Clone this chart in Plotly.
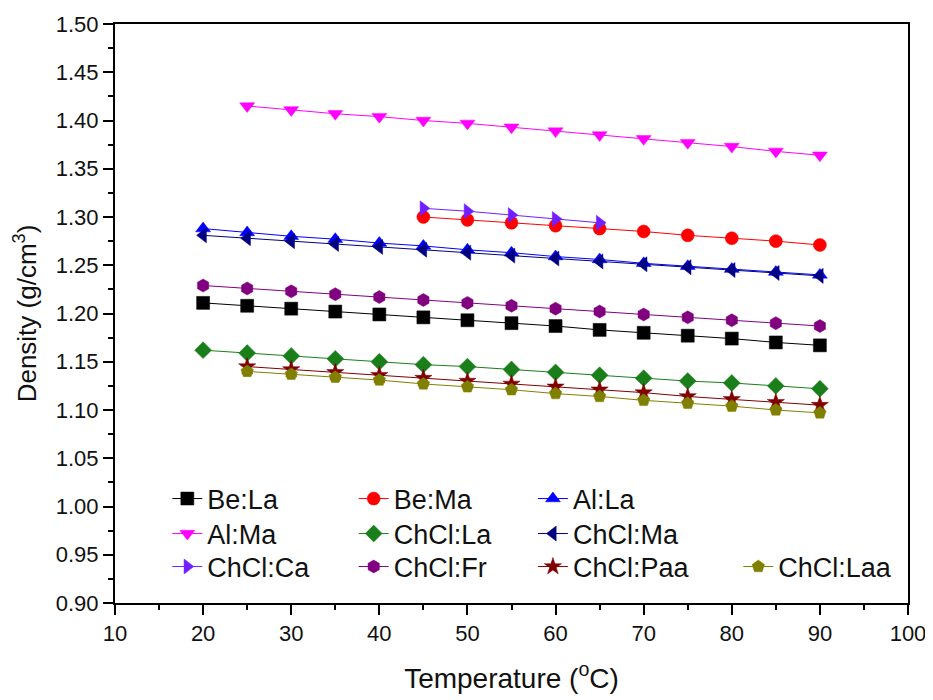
import plotly.graph_objects as go

# ---- data ----
t20 = [20, 25, 30, 35, 40, 45, 50, 55, 60, 65, 70, 75, 80, 85, 90]
t25 = [25, 30, 35, 40, 45, 50, 55, 60, 65, 70, 75, 80, 85, 90]
t45 = [45, 50, 55, 60, 65, 70, 75, 80, 85, 90]
t45_65 = [45, 50, 55, 60, 65]

be_la = [1.211, 1.208, 1.205, 1.202, 1.199, 1.196, 1.193, 1.190, 1.187, 1.183, 1.180, 1.177, 1.174, 1.170, 1.167]
be_ma = [1.300, 1.297, 1.294, 1.291, 1.288, 1.285, 1.281, 1.278, 1.275, 1.271]
al_la = [1.288, 1.284, 1.280, 1.277, 1.273, 1.270, 1.266, 1.263, 1.259, 1.256, 1.252, 1.249, 1.246, 1.243, 1.240]
al_ma = [1.415, 1.411, 1.407, 1.404, 1.400, 1.397, 1.393, 1.389, 1.385, 1.381, 1.377, 1.373, 1.368, 1.364]
chcl_la = [1.162, 1.159, 1.156, 1.153, 1.150, 1.147, 1.145, 1.142, 1.139, 1.136, 1.133, 1.130, 1.128, 1.125, 1.122]
chcl_ma = [1.281, 1.278, 1.275, 1.272, 1.269, 1.266, 1.263, 1.260, 1.257, 1.254, 1.251, 1.248, 1.245, 1.242, 1.239]
chcl_ca = [1.309, 1.306, 1.302, 1.298, 1.294]
chcl_fr = [1.229, 1.226, 1.223, 1.220, 1.217, 1.214, 1.211, 1.208, 1.205, 1.202, 1.199, 1.196, 1.193, 1.190, 1.187]
chcl_paa = [1.145, 1.142, 1.139, 1.136, 1.133, 1.130, 1.127, 1.124, 1.121, 1.118, 1.114, 1.111, 1.108, 1.105]
chcl_laa = [1.140, 1.137, 1.134, 1.131, 1.127, 1.124, 1.121, 1.117, 1.114, 1.110, 1.107, 1.104, 1.100, 1.097]

names = ["Be:La", "Be:Ma", "Al:La", "Al:Ma", "ChCl:La", "ChCl:Ma", "ChCl:Ca", "ChCl:Fr", "ChCl:Paa", "ChCl:Laa"]
xs = [t20, t45, t20, t25, t20, t20, t45_65, t20, t25, t25]
ys = [be_la, be_ma, al_la, al_ma, chcl_la, chcl_ma, chcl_ca, chcl_fr, chcl_paa, chcl_laa]
colors = ["#000000", "#ff0000", "#0000ff", "#ff00ff", "#1a7f1a", "#000080", "#7020ff", "#800080", "#800000", "#808000"]
symbols = ["square", "circle", "triangle-up", "triangle-down", "diamond", "triangle-left",
           "triangle-right", "hexagon", "star", "pentagon"]

# legend grid (Origin-style 3 rows, items flowing left to right)
leg_cols = [0.066, 0.301, 0.527, 0.066, 0.301, 0.527, 0.066, 0.301, 0.527, 0.786]
leg_rows = [0.1796, 0.1796, 0.1796, 0.1192, 0.1192, 0.1192, 0.0622, 0.0622, 0.0622, 0.0622]

fig = go.Figure()
layout_legends = {}
for i, (name, x, y, c, sym) in enumerate(zip(names, xs, ys, colors, symbols)):
    key = "legend" if i == 0 else f"legend{i + 1}"
    fig.add_trace(go.Scatter(
        x=x, y=y, name=name, mode="lines+markers", legend=key, showlegend=True,
        line=dict(color=c, width=1),
        marker=dict(symbol=sym, size=13, color=c, line=dict(color=c, width=0.5)),
    ))
    layout_legends[key] = dict(
        x=leg_cols[i], y=leg_rows[i], xanchor="left", yanchor="middle",
        bgcolor="rgba(0,0,0,0)", borderwidth=0,
        font=dict(family="Liberation Sans, Arial", size=27, color="#111"),
    )

fig.update_layout(
    width=925, height=692,
    margin=dict(l=107, r=25, t=16, b=97, autoexpand=False),
    showlegend=True,
    paper_bgcolor="white", plot_bgcolor="white",
    font=dict(family="Liberation Sans, Arial", size=22, color="#111"),
    **layout_legends,
    xaxis=dict(
        range=[10, 100], dtick=10, tick0=10, showgrid=False, zeroline=False,
        showline=True, linecolor="black", linewidth=2, mirror=True, automargin=False,
        ticks="outside", ticklen=10, tickwidth=2, tickcolor="black",
        minor=dict(dtick=5, ticks="outside", ticklen=5, tickwidth=1.5, tickcolor="black"),
        title=dict(text="Temperature (<sup>o</sup>C)", font=dict(size=28), standoff=23),
        tickfont=dict(size=22),
    ),
    yaxis=dict(
        range=[0.9, 1.5], dtick=0.05, tick0=0.9, tickformat=".2f", showgrid=False, zeroline=False,
        showline=True, linecolor="black", linewidth=2, mirror=True, automargin=False,
        ticks="outside", ticklen=10, tickwidth=2, tickcolor="black",
        minor=dict(dtick=0.025, ticks="outside", ticklen=5, tickwidth=1.5, tickcolor="black"),
        title=dict(text="Density (g/cm<sup>3</sup>)", font=dict(size=26), standoff=12),
        tickfont=dict(size=22),
    ),
)

fig.write_html("out.html")
